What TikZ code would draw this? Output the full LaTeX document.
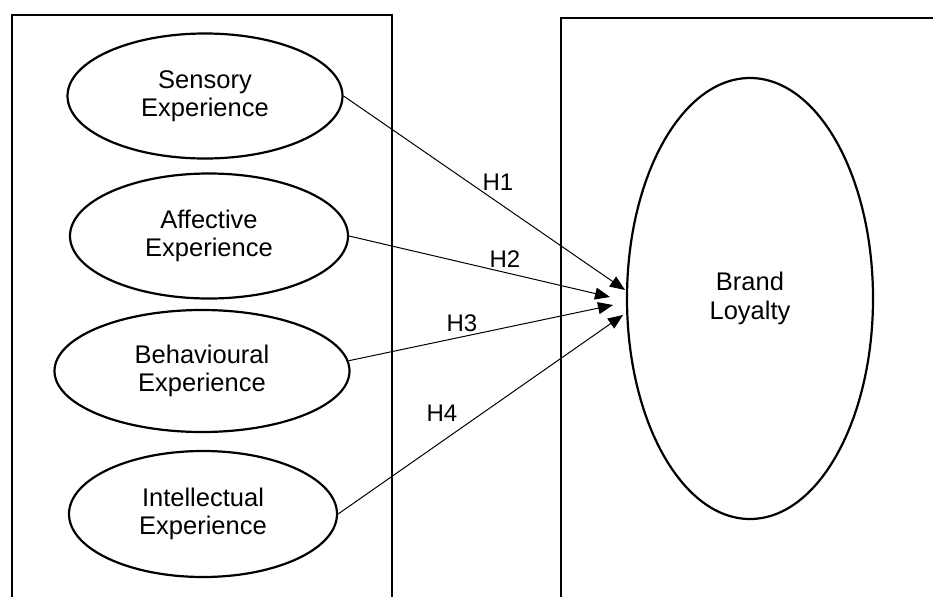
\documentclass[tikz,border=0pt]{standalone}
\usepackage{fontspec}
\setmainfont{Liberation Sans}
\usetikzlibrary{shapes.geometric,arrows.meta}

\tikzset{
  frame/.style={line width=2.2pt},
  construct/.style={draw, ellipse, line width=2.2pt, inner sep=0pt, align=center,
    font=\fontsize{25.5}{28.5}\selectfont},
  hyp/.style={line width=1pt, -{Triangle[length=15pt,width=12pt]}},
  hlabel/.style={inner sep=0pt, font=\fontsize{24}{28}\selectfont}
}

\begin{document}
\begin{tikzpicture}[x=1pt, y=-1pt]
  \useasboundingbox (0,0) rectangle (933,597);

  % the two grouping frames, open at the bottom
  \draw[frame] (12,597) -- (12,15) -- (392,15) -- (392,597);
  \draw[frame] (561,597) -- (561,18) -- (935,18);

  % experience dimensions
  \node[construct, minimum width=275pt, minimum height=125pt] (sens) at (205,96)
    {Sensory\\Experience};
  \node[construct, minimum width=278pt, minimum height=125pt] (aff) at (209,236)
    {Affective\\Experience};
  \node[construct, minimum width=295pt, minimum height=122pt] (beh) at (202,371)
    {Behavioural\\Experience};
  \node[construct, minimum width=268pt, minimum height=126pt] (int) at (203,514)
    {Intellectual\\Experience};

  % outcome
  \node[construct, minimum width=246pt, minimum height=441pt] (loy) at (750,298.5)
    {Brand\\Loyalty};

  % arrow tips in front of the outcome ellipse
  \coordinate (t1) at (625,290);
  \coordinate (t2) at (610,297);
  \coordinate (t3) at (613,305);
  \coordinate (t4) at (623,315);

  % hypothesised paths
  \draw[hyp] (sens.east) -- (t1);
  \draw[hyp] (aff.east) -- (t2);
  \draw[hyp] (beh.4) -- (t3);
  \draw[hyp] (int.east) -- (t4);

  % hypothesis labels
  \node[hlabel] (h1) at (498,182) {H1};
  \node[hlabel] (h2) at (505,259) {H2};
  \node[hlabel] (h3) at (462,323) {H3};
  \node[hlabel] (h4) at (442,413) {H4};
\end{tikzpicture}
\end{document}
